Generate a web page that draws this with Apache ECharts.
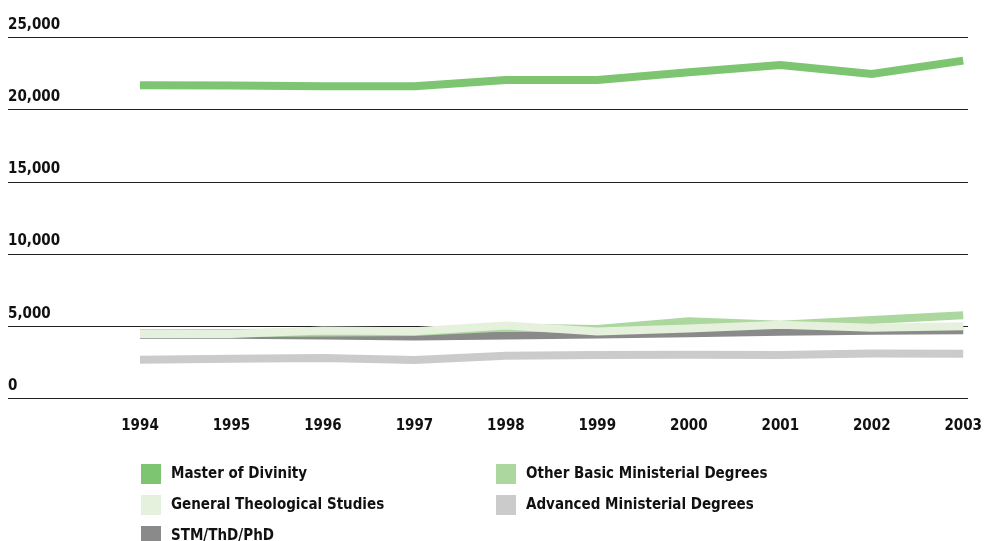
<!DOCTYPE html>
<html>
<head>
<meta charset="utf-8">
<script src="https://cdn.jsdelivr.net/npm/echarts@6/dist/echarts.min.js"></script>
<style>
  html, body { margin: 0; padding: 0; background: #fff; }
  #chart { width: 985px; height: 541px; }
</style>
</head>
<body>
<div id="chart"></div>
<script>
// Enrollment by degree program, 1994–2003
const years = ['1994', '1995', '1996', '1997', '1998', '1999', '2000', '2001', '2002', '2003'];
const masterOfDivinity = [21700, 21680, 21630, 21620, 22060, 22060, 22590, 23100, 22480, 23400];
const otherBasic = [4500, 4520, 4560, 4600, 4900, 4810, 5340, 5100, 5430, 5750];
const generalTheological = [4460, 4460, 4690, 4650, 5040, 4630, 4830, 5090, 4890, 5000];
const advancedMinisterial = [2670, 2740, 2800, 2660, 2950, 2995, 3020, 2995, 3100, 3080];
const stmThdPhd = [4400, 4400, 4350, 4280, 4350, 4420, 4510, 4610, 4680, 4720];
const yTicks = { min: 0, max: 25000, step: 5000 };

const FONT = "'Liberation Sans Narrow', 'DejaVu Sans Condensed', 'Roboto', sans-serif";
const colors = {
  master: '#7dc571',
  other: '#acd8a0',
  general: '#e5f0dd',
  advanced: '#cbcbcb',
  stm: '#8a8a8a'
};

const chart = echarts.init(document.getElementById('chart'), null, { renderer: 'canvas' });

const gridTop = 37.5, gridBottom = 142.7;

function line(name, data, color, z) {
  return {
    name, type: 'line', data, xAxisIndex: 1, yAxisIndex: 1,
    showSymbol: false, symbol: 'none', z,
    lineStyle: { color, width: 8, cap: 'butt', join: 'miter' },
    itemStyle: { color },
    emphasis: { disabled: true }
  };
}

const legendText = {
  fontFamily: FONT, fontWeight: 'bold', fontSize: 15, color: '#111',
  padding: [0, 0, 0, 5]
};

function legendColumn(left, names) {
  return {
    left, top: 464, height: 90, orient: 'vertical', padding: 0, itemGap: 11,
    itemWidth: 20, itemHeight: 20, icon: 'rect', selectedMode: false,
    textStyle: legendText, data: names
  };
}

chart.setOption({
  animation: false,
  backgroundColor: '#fff',
  grid: [
    { left: 8, right: 17, top: gridTop, bottom: gridBottom },
    { left: 140, right: 18, top: gridTop, bottom: gridBottom }
  ],
  xAxis: [
    { type: 'value', gridIndex: 0, show: false, min: 0, max: 1 },
    {
      type: 'category', gridIndex: 1, data: years, boundaryGap: false,
      axisLine: { show: false }, axisTick: { show: false },
      splitLine: { show: false },
      axisLabel: { fontFamily: FONT, fontWeight: 'bold', fontSize: 15, color: '#111', margin: 20 }
    }
  ],
  yAxis: [
    {
      type: 'value', gridIndex: 0, min: yTicks.min, max: yTicks.max, interval: yTicks.step,
      axisLine: { show: false }, axisTick: { show: false },
      splitLine: { show: true, lineStyle: { color: '#222', width: 1 } },
      axisLabel: {
        inside: true, margin: 0, verticalAlign: 'bottom', padding: [0, 0, 5, 0],
        fontFamily: FONT, fontWeight: 'bold', fontSize: 15, color: '#111',
        formatter: v => v.toLocaleString('en-US')
      }
    },
    { type: 'value', gridIndex: 1, min: yTicks.min, max: yTicks.max, show: false }
  ],
  legend: [
    legendColumn(141, ['Master of Divinity', 'General Theological Studies', 'STM/ThD/PhD']),
    legendColumn(496, ['Other Basic Ministerial Degrees', 'Advanced Ministerial Degrees'])
  ],
  series: [
    line('Master of Divinity', masterOfDivinity, colors.master, 3),
    line('Other Basic Ministerial Degrees', otherBasic, colors.other, 3),
    line('STM/ThD/PhD', stmThdPhd, colors.stm, 2),
    line('Advanced Ministerial Degrees', advancedMinisterial, colors.advanced, 2),
    line('General Theological Studies', generalTheological, colors.general, 4)
  ]
});
</script>
</body>
</html>
